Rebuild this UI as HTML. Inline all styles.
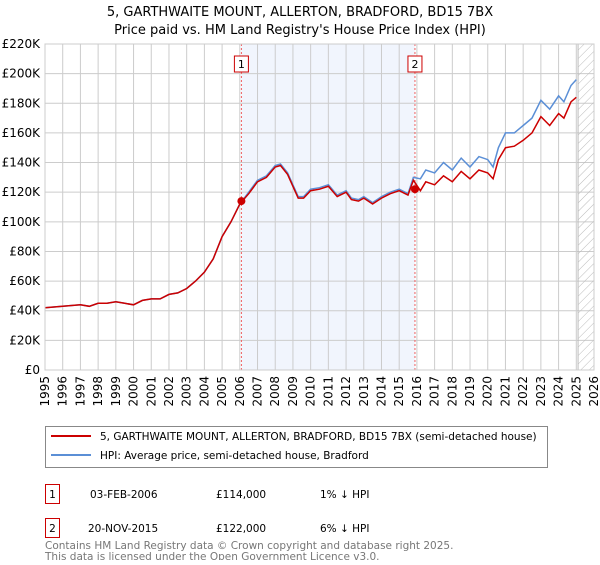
<!DOCTYPE html>
<html><head><meta charset="utf-8"><style>
body{margin:0;width:600px;height:560px;background:#fff;font-family:"Liberation Sans","DejaVu Sans",sans-serif;overflow:hidden}
</style></head><body>
<svg width="600" height="560" id="svg" font-family="DejaVu Sans, Liberation Sans, sans-serif">
<text x="300" y="16" text-anchor="middle" font-size="13">5, GARTHWAITE MOUNT, ALLERTON, BRADFORD, BD15 7BX</text>
<text x="300" y="34" text-anchor="middle" font-size="13">Price paid vs. HM Land Registry's House Price Index (HPI)</text>
<g id="plot"></g>
<g>
<rect x="45.5" y="426.5" width="502" height="41" fill="#fff" stroke="#888"/>
<line x1="51" y1="436" x2="91" y2="436" stroke="#cc0000" stroke-width="2"/>
<text x="100" y="440" font-size="10.5">5, GARTHWAITE MOUNT, ALLERTON, BRADFORD, BD15 7BX (semi-detached house)</text>
<line x1="51" y1="455" x2="91" y2="455" stroke="#5b8fd6" stroke-width="2"/>
<text x="100" y="459" font-size="10.5">HPI: Average price, semi-detached house, Bradford</text>
</g>
<g font-size="10.5">
<rect x="45.5" y="484.5" width="14" height="19" fill="#fff" stroke="#cc0000"/><text x="52.5" y="498" text-anchor="middle">1</text>
<text x="90" y="498">03-FEB-2006</text><text x="216" y="498">£114,000</text><text x="320" y="498">1% ↓ HPI</text>
<rect x="45.5" y="518.5" width="14" height="19" fill="#fff" stroke="#cc0000"/><text x="52.5" y="532" text-anchor="middle">2</text>
<text x="88" y="532">20-NOV-2015</text><text x="216" y="532">£122,000</text><text x="320" y="532">6% ↓ HPI</text>
</g>
<text x="45" y="549" font-size="10.5" fill="#777">Contains HM Land Registry data © Crown copyright and database right 2025.</text>
<text x="45" y="560" font-size="10.5" fill="#777">This data is licensed under the Open Government Licence v3.0.</text>
</svg>
<script>
const yTicks=[0,20,40,60,80,100,120,140,160,180,200,220];
const years=[1995,1996,1997,1998,1999,2000,2001,2002,2003,2004,2005,2006,2007,2008,2009,2010,2011,2012,2013,2014,2015,2016,2017,2018,2019,2020,2021,2022,2023,2024,2025,2026];
const hpiT=[1995,1996,1997,1997.5,1998,1998.5,1999,1999.5,2000,2000.5,2001,2001.5,2002,2002.5,2003,2003.5,2004,2004.5,2005,2005.5,2006,2006.5,2007,2007.5,2008,2008.3,2008.7,2009,2009.3,2009.6,2010,2010.5,2011,2011.5,2012,2012.3,2012.7,2013,2013.5,2014,2014.5,2015,2015.5,2015.8,2016.2,2016.5,2017,2017.5,2018,2018.5,2019,2019.5,2020,2020.3,2020.6,2021,2021.5,2022,2022.5,2023,2023.5,2024,2024.3,2024.7,2025];
const hpiV=[42,43,44,43,45,45,46,45,44,47,48,48,51,52,55,60,66,75,90,100,112,120,128,131,138,139,133,125,117,117,122,123,125,118,121,116,115,117,113,117,120,122,119,130,129,135,133,140,135,143,137,144,142,137,150,160,160,165,170,182,176,185,181,192,196];
const redV=[42,43,44,43,45,45,46,45,44,47,48,48,51,52,55,60,66,75,90,100,112,119,127,130,137,138,132,124,116,116,121,122,124,117,120,115,114,116,112,116,119,121,118,128,121,127,125,131,127,134,129,135,133,129,142,150,151,155,160,171,165,173,170,181,184];
const salesT=[2006.09,2015.89];
const salesV=[114,122];
const X0=45,X1=594,Y0=370,Y1=44;
const x=t=>X0+(t-1995)/(2026-1995)*(X1-X0);
const y=v=>Y0-v/220*(Y0-Y1);
const g=document.getElementById('plot');const NS='http://www.w3.org/2000/svg';
function el(tag,a,p){const e=document.createElementNS(NS,tag);for(const k in a)e.setAttribute(k,a[k]);(p||g).appendChild(e);return e;}
const sh=el('rect',{x:x(salesT[0]),y:Y1,width:x(salesT[1])-x(salesT[0]),height:Y0-Y1,fill:'#eef3fc',opacity:0.8});


years.forEach(yr=>{const l=el('line',{x1:x(yr),x2:x(yr),y1:Y1,y2:Y0,stroke:'#ccc'});


const t=el('text',{x:0,y:0,'font-size':12,'text-anchor':'end',transform:`translate(${x(yr)+4},${Y0+6}) rotate(-90)`});t.textContent=yr;

});
yTicks.forEach(v=>{const l=el('line',{x1:X0,x2:X1,y1:y(v),y2:y(v),stroke:'#ccc'});


const t=el('text',{x:X0-5,y:y(v)+4,'font-size':12,'text-anchor':'end'});t.textContent='£'+(v?v+'K':'0');

});
const defs=el('defs',{});const pat=el('pattern',{id:'h',width:6,height:6,patternUnits:'userSpaceOnUse',patternTransform:'rotate(45)'},defs);
el('line',{x1:0,y1:0,x2:0,y2:6,stroke:'#bbb'},pat);
const hr=el('rect',{x:x(2025.1),y:Y1,width:X1-x(2025.1),height:Y0-Y1,fill:'url(#h)',stroke:'#bbb'});


salesT.forEach((t,i)=>{const l=el('line',{x1:x(t),x2:x(t),y1:Y1,y2:Y0,stroke:'#f06060','stroke-dasharray':'2,2'});


const r=el('rect',{x:x(t)-7,y:56,width:14,height:16,fill:'#fff',stroke:'#cc0000'});


const tx=el('text',{x:x(t),y:68,'font-size':11,'text-anchor':'middle'});tx.textContent=i+1;

});
const pts=v=>hpiT.map((t,i)=>x(t).toFixed(1)+','+y(v[i]).toFixed(1)).join(' ');
const hl=el('polyline',{points:pts(hpiV),fill:'none',stroke:'#5b8fd6','stroke-width':1.5});


const rl=el('polyline',{points:pts(redV),fill:'none',stroke:'#cc0000','stroke-width':1.5});


salesT.forEach((t,i)=>{const c=el('circle',{cx:x(t),cy:y(salesV[i]),r:4,fill:'#cc0000'});

});
const ax=el('rect',{x:X0,y:Y1,width:X1-X0,height:Y0-Y1,fill:'none',stroke:'#ccc'});


</script>
</body></html>
